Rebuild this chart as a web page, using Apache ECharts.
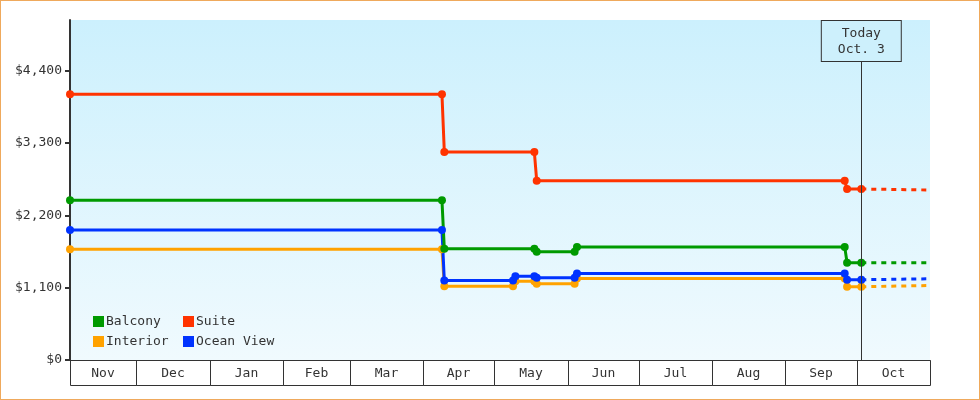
<!DOCTYPE html>
<html>
<head>
<meta charset="utf-8">
<script src="https://cdn.jsdelivr.net/npm/echarts@6/dist/echarts.min.js"></script>
<style>
  html, body { margin: 0; padding: 0; background: #fff; }
  #wrap { position: relative; width: 980px; height: 400px; }
  #chart { width: 980px; height: 400px; }
  #frame { position: absolute; left: 0; top: 0; width: 978px; height: 398px; border: 1px solid #efa95c; pointer-events: none; }
</style>
</head>
<body>
<div id="wrap">
  <div id="chart"></div>
  <div id="frame"></div>
</div>
<script>
// x range and month strip
var startDate = '2022-11-03'
var endDate = '2023-11-01'
var todayDate = '2023-10-03'
var monthLabels = ['Nov', 'Dec', 'Jan', 'Feb', 'Mar', 'Apr', 'May', 'Jun', 'Jul', 'Aug', 'Sep', 'Oct']
var monthStarts = ['2022-11-01', '2022-12-01', '2023-01-01', '2023-02-01', '2023-03-01', '2023-04-01',
                   '2023-05-01', '2023-06-01', '2023-07-01', '2023-08-01', '2023-09-01', '2023-10-01', '2023-11-01']
var yTicks = [0, 1100, 2200, 3300, 4400]

// price history
var suiteDates = ['2022-11-03', '2023-04-09', '2023-04-10', '2023-05-18', '2023-05-19', '2023-09-26', '2023-09-27', '2023-10-03']
var suiteValues = [4040, 4040, 3162, 3162, 2724, 2724, 2600, 2600]
var balconyDates = ['2022-11-03', '2023-04-09', '2023-04-10', '2023-05-18', '2023-05-19', '2023-06-04', '2023-06-05', '2023-09-26', '2023-09-27', '2023-10-03']
var balconyValues = [2428, 2428, 1690, 1690, 1645, 1645, 1720, 1720, 1478, 1478]
var cabinDates = ['2022-11-03', '2023-04-09', '2023-04-10', '2023-05-09', '2023-05-10', '2023-05-18', '2023-05-19', '2023-06-04', '2023-06-05', '2023-09-26', '2023-09-27', '2023-10-03']
var oceanValues = [1978, 1978, 1209, 1209, 1274, 1274, 1250, 1250, 1315, 1315, 1220, 1220]
var interiorValues = [1684, 1684, 1123, 1123, 1199, 1199, 1159, 1159, 1240, 1240, 1114, 1114]

// projection after today
var forecastDates = [todayDate, endDate]
var suiteForecast = [2600, 2585]
var balconyForecast = [1478, 1478]
var oceanForecast = [1220, 1235]
var interiorForecast = [1114, 1133]

var colors = { Balcony: '#009a00', Suite: '#ff3300', Interior: '#ffa200', 'Ocean View': '#0033ff' }
var mono = 'DejaVu Sans Mono'

function pairs(dates, values) {
    return dates.map(function (d, i) { return [d, values[i]] })
}

function histSeries(name, dates, values) {
    return {
        name: name,
        type: 'line',
        data: pairs(dates, values),
        symbol: 'circle',
        symbolSize: 8,
        color: colors[name],
        lineStyle: { width: 3, color: colors[name] },
        itemStyle: { color: colors[name] },
        z: 3
    }
}

function forecastSeries(name, values) {
    return {
        name: name + ' forecast',
        type: 'line',
        data: pairs(forecastDates, values),
        showSymbol: false,
        symbol: 'none',
        lineStyle: { width: 3, type: [5, 5], color: colors[name] },
        z: 2
    }
}

// month boxes: [start ms, end ms]
var monthData = monthLabels.map(function (m, i) {
    return [+new Date(monthStarts[i] + 'T00:00:00'), +new Date(monthStarts[i + 1] + 'T00:00:00')]
})

var chart = echarts.init(document.getElementById('chart'))

var option = {
    animation: false,
    textStyle: { fontFamily: mono },
    grid: [
        {
            left: 70, right: 50, top: 20, bottom: 40,
            show: true,
            borderWidth: 0,
            backgroundColor: new echarts.graphic.LinearGradient(0, 0, 0, 1, [
                { offset: 0, color: '#ccf0fd' },
                { offset: 1, color: '#f0fafe' }
            ])
        },
        { left: 70, right: 50, top: 360, height: 25 }
    ],
    xAxis: [
        {
            type: 'time', gridIndex: 0, min: startDate, max: endDate,
            axisLine: { lineStyle: { color: '#333', width: 1 } },
            axisTick: { show: false },
            axisLabel: { show: false },
            splitLine: { show: false }
        },
        {
            type: 'time', gridIndex: 1, min: startDate, max: endDate,
            axisLine: { show: false }, axisTick: { show: false },
            axisLabel: { show: false }, splitLine: { show: false }
        }
    ],
    yAxis: [
        {
            type: 'value', gridIndex: 0, min: 0, max: 5170, interval: 1100,
            axisLine: { show: true, lineStyle: { color: '#333', width: 2 } },
            axisTick: { show: true, length: 5, customValues: yTicks, lineStyle: { color: '#333', width: 2 } },
            axisLabel: {
                customValues: yTicks,
                margin: 8,
                color: '#333',
                fontFamily: mono,
                fontSize: 13,
                formatter: function (v) { return '$' + v.toLocaleString('en-US') }
            },
            splitLine: { show: false }
        },
        { type: 'value', gridIndex: 1, min: 0, max: 1, show: false }
    ],
    legend: [
        {
            data: ['Balcony', 'Interior'], orient: 'vertical', left: 88, top: 310,
            icon: 'rect', itemWidth: 11, itemHeight: 11, itemGap: 7,
            textStyle: { fontFamily: mono, fontSize: 13, color: '#333', padding: [0, 0, 0, -3] }
        },
        {
            data: ['Suite', 'Ocean View'], orient: 'vertical', left: 178, top: 310,
            icon: 'rect', itemWidth: 11, itemHeight: 11, itemGap: 7,
            textStyle: { fontFamily: mono, fontSize: 13, color: '#333', padding: [0, 0, 0, -3] }
        }
    ],
    series: [
        histSeries('Interior', cabinDates, interiorValues),
        histSeries('Ocean View', cabinDates, oceanValues),
        histSeries('Balcony', balconyDates, balconyValues),
        histSeries('Suite', suiteDates, suiteValues),
        forecastSeries('Interior', interiorForecast),
        forecastSeries('Ocean View', oceanForecast),
        forecastSeries('Balcony', balconyForecast),
        Object.assign(forecastSeries('Suite', suiteForecast), {
            markLine: {
                silent: true,
                symbol: 'none',
                lineStyle: { color: '#333', width: 1, type: 'solid' },
                label: {
                    position: 'end',
                    distance: 0,
                    formatter: 'Today\nOct. 3',
                    fontFamily: mono,
                    fontSize: 13,
                    lineHeight: 16,
                    color: '#333',
                    backgroundColor: '#cdf0fc',
                    borderColor: '#333',
                    borderWidth: 1,
                    padding: [5, 16, 3, 16]
                },
                data: [[{ coord: [todayDate, 0] }, { coord: [todayDate, 4547] }]]
            }
        }),
        {
            type: 'custom',
            xAxisIndex: 1,
            yAxisIndex: 1,
            silent: true,
            dimensions: [{ name: 'from', type: 'time' }, { name: 'to', type: 'time' }],
            encode: { x: [0, 1] },
            data: monthData,
            renderItem: function (params, api) {
                var cs = params.coordSys
                var a = api.coord([monthData[params.dataIndex][0], 0])[0]
                var b = api.coord([monthData[params.dataIndex][1], 0])[0]
                var x0 = Math.round(Math.max(a, cs.x))
                var x1 = Math.round(Math.min(b, cs.x + cs.width))
                return {
                    type: 'group',
                    children: [
                        {
                            type: 'rect',
                            shape: { x: x0 + 0.5, y: cs.y + 0.5, width: x1 - x0, height: cs.height },
                            style: { fill: 'none', stroke: '#333', lineWidth: 1 }
                        },
                        {
                            type: 'text',
                            x: (x0 + x1) / 2,
                            y: cs.y + cs.height / 2 + 1,
                            style: {
                                text: monthLabels[params.dataIndex],
                                align: 'center', verticalAlign: 'middle',
                                font: '13px ' + mono, fill: '#333'
                            }
                        }
                    ]
                }
            }
        }
    ]
}

chart.setOption(option)
</script>
</body>
</html>
